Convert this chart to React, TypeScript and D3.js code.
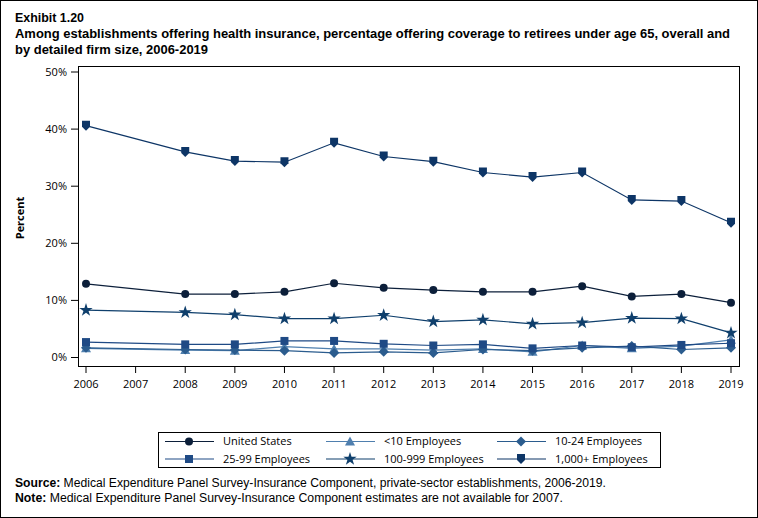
import * as d3 from "d3";
import React from "react";

const years = [2006, 2008, 2009, 2010, 2011, 2012, 2013, 2014, 2015, 2016, 2017, 2018, 2019];
const axisYears = d3.range(2006, 2020);
const yTicks = [0, 10, 20, 30, 40, 50];

const usValues = [12.9, 11.1, 11.1, 11.5, 13.0, 12.2, 11.8, 11.5, 11.5, 12.5, 10.7, 11.1, 9.6];
const lt10Values = [1.6, 1.3, 1.2, 1.9, 1.5, 1.5, 1.3, 1.5, 1.0, 2.1, 1.6, 2.0, 3.1];
const e10to24Values = [1.7, 1.4, 1.3, 1.2, 0.8, 1.0, 0.8, 1.4, 1.2, 1.7, 2.0, 1.4, 1.7];
const e25to99Values = [2.7, 2.3, 2.3, 2.9, 2.9, 2.4, 2.1, 2.3, 1.6, 2.1, 1.8, 2.2, 2.5];
const e100to999Values = [8.3, 7.9, 7.5, 6.8, 6.8, 7.4, 6.3, 6.6, 5.9, 6.1, 6.9, 6.8, 4.3];
const e1000Values = [40.6, 36.0, 34.4, 34.2, 37.6, 35.2, 34.3, 32.4, 31.6, 32.4, 27.6, 27.4, 23.6];

type Shape = "circle" | "triangle" | "diamond" | "square" | "star" | "shield";
interface Series {
  label: string;
  values: number[];
  color: string;
  shape: Shape;
}

const series: Series[] = [
  { label: "<10 Employees", values: lt10Values, color: "#4f7fae", shape: "triangle" },
  { label: "10-24 Employees", values: e10to24Values, color: "#2b5c8e", shape: "diamond" },
  { label: "25-99 Employees", values: e25to99Values, color: "#1f4a85", shape: "square" },
  { label: "100-999 Employees", values: e100to999Values, color: "#0f3f6c", shape: "star" },
  { label: "1,000+ Employees", values: e1000Values, color: "#0d3566", shape: "shield" },
  { label: "United States", values: usValues, color: "#0c1f3a", shape: "circle" },
];

const legendOrder = [
  "United States",
  "<10 Employees",
  "10-24 Employees",
  "25-99 Employees",
  "100-999 Employees",
  "1,000+ Employees",
];

const W = 758;
const H = 518;
const frame = { left: 78, top: 66, right: 739, bottom: 366 };

const Marker: React.FC<{ shape: Shape; x: number; y: number; color: string }> = ({ shape, x, y, color }) => {
  if (shape === "circle") return <circle cx={x} cy={y} r={4} fill={color} />;
  if (shape === "square") return <rect x={x - 4} y={y - 4} width={8} height={8} fill={color} />;
  if (shape === "diamond")
    return <path d={`M${x},${y - 5}L${x + 5},${y}L${x},${y + 5}L${x - 5},${y}Z`} fill={color} />;
  if (shape === "triangle")
    return <path d={`M${x},${y - 5}L${x + 5},${y + 4}L${x - 5},${y + 4}Z`} fill={color} />;
  if (shape === "shield")
    return <path d={`M${x - 4},${y - 5}L${x + 4},${y - 5}L${x + 4},${y + 1}L${x},${y + 5}L${x - 4},${y + 1}Z`} fill={color} />;
  const star = d3.symbol(d3.symbolStar, 55)();
  return <path d={star ?? ""} transform={`translate(${x},${y})`} fill={color} />;
};

export default function App() {
  const x = d3.scaleLinear().domain([2006, 2019]).range([86, 731]);
  const y = d3.scaleLinear().domain([0, 50]).range([357.5, 72]);
  const line = (vals: number[]) =>
    d3
      .line<number>()
      .x((_, i) => x(years[i]))
      .y((d) => y(d))(vals) ?? "";

  const tickFont = "'Open Sans', 'Noto Sans', sans-serif";
  const narrow = "'Liberation Sans Narrow', 'Arial Narrow', 'Liberation Sans', sans-serif";

  const legendCols = [165, 326, 497];
  const legendRows = [441.5, 459];

  return (
    <div style={{ position: "absolute", left: 0, top: 0 }}>
      <svg width={W} height={H} style={{ display: "block", background: "#fff" }}>
        <rect x={0.5} y={0.5} width={W - 1} height={H - 1} fill="#fff" stroke="#000" />

        {/* title */}
        <g fontFamily={narrow} fontWeight="bold" fill="#000">
          <text x={15} y={22} fontSize={13} textLength={69} lengthAdjust="spacingAndGlyphs">Exhibit 1.20</text>
          <text x={15} y={38} fontSize={12} textLength={715} lengthAdjust="spacingAndGlyphs">
            Among establishments offering health insurance, percentage offering coverage to retirees under age 65, overall and
          </text>
          <text x={15} y={54} fontSize={12} textLength={193} lengthAdjust="spacingAndGlyphs">by detailed firm size, 2006-2019</text>
        </g>

        {/* plot frame */}
        <rect
          x={frame.left + 0.5}
          y={frame.top + 0.5}
          width={frame.right - frame.left}
          height={frame.bottom - frame.top}
          fill="none"
          stroke="#000"
        />

        {/* y axis */}
        {yTicks.map((t) => (
          <g key={t}>
            <line x1={71} x2={frame.left} y1={y(t)} y2={y(t)} stroke="#000" />
            <text x={67} y={y(t)} dy="0.35em" textAnchor="end" fontFamily={tickFont} fontSize={11} fill="#000">
              {t}%
            </text>
          </g>
        ))}
        <text
          transform={`translate(24,${(frame.top + frame.bottom) / 2 + 2}) rotate(-90)`}
          textAnchor="middle"
          fontFamily={tickFont}
          fontWeight="bold"
          fontSize={11}
        >
          Percent
        </text>

        {/* x axis */}
        {axisYears.map((yr) => (
          <g key={yr}>
            <line x1={x(yr)} x2={x(yr)} y1={frame.bottom + 1} y2={frame.bottom + 7} stroke="#000" />
            <text x={x(yr)} y={388} textAnchor="middle" fontFamily={tickFont} fontSize={11} fill="#000">
              {yr}
            </text>
          </g>
        ))}

        {/* series */}
        {series.map((s) => (
          <g key={s.label}>
            <path d={line(s.values)} fill="none" stroke={s.color} strokeWidth={1.2} />
            {s.values.map((v, i) => (
              <Marker key={i} shape={s.shape} x={x(years[i])} y={y(v)} color={s.color} />
            ))}
          </g>
        ))}

        {/* legend */}
        <rect x={158.5} y={432.5} width={502} height={35} fill="#fff" stroke="#000" />
        {legendOrder.map((lab, i) => {
          const s = series.find((d) => d.label === lab)!;
          const cx = legendCols[i % 3];
          const cy = legendRows[Math.floor(i / 3)];
          return (
            <g key={lab}>
              <line x1={cx} x2={cx + 49} y1={cy} y2={cy} stroke={s.color} strokeWidth={1.2} />
              <Marker shape={s.shape} x={cx + 24} y={cy} color={s.color} />
              <text x={cx + 58} y={cy} dy="0.33em" fontFamily={tickFont} fontSize={11} fill="#000">
                {lab}
              </text>
            </g>
          );
        })}

        {/* notes */}
        <g fontFamily={narrow} fontSize={12} fill="#000">
          <text x={15} y={487} textLength={591} lengthAdjust="spacingAndGlyphs">
            <tspan fontWeight="bold">Source:</tspan> Medical Expenditure Panel Survey-Insurance Component, private-sector establishments, 2006-2019.
          </text>
          <text x={15} y={502} textLength={548} lengthAdjust="spacingAndGlyphs">
            <tspan fontWeight="bold">Note:</tspan> Medical Expenditure Panel Survey-Insurance Component estimates are not available for 2007.
          </text>
        </g>
      </svg>
    </div>
  );
}
